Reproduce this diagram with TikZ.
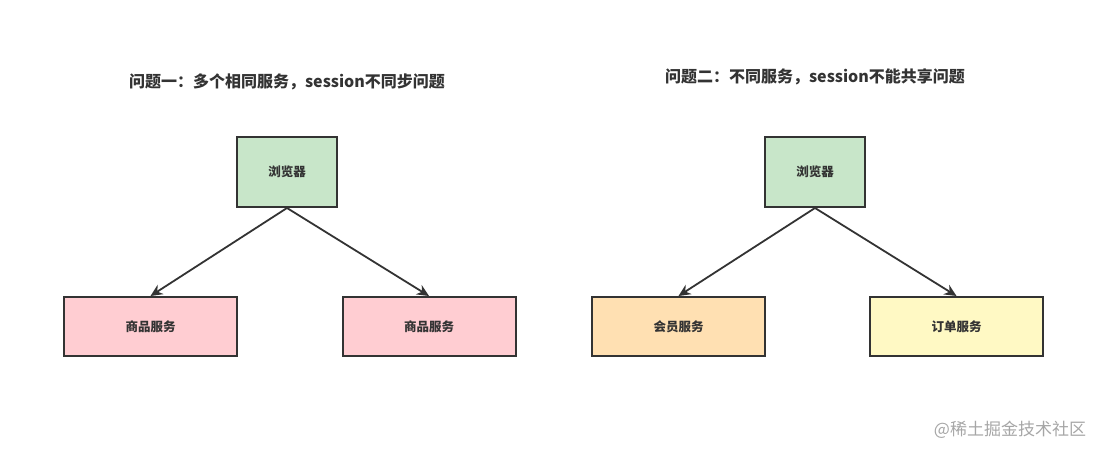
\documentclass[tikz,border=0pt]{standalone}
\usepackage{fontspec}
\setmainfont{Noto Sans CJK SC}
\usetikzlibrary{arrows.meta,positioning}
\definecolor{boxline}{HTML}{333333}
\definecolor{browsergreen}{HTML}{C8E6C9}
\definecolor{svcpink}{HTML}{FFCDD2}
\definecolor{svcorange}{HTML}{FFE0B2}
\definecolor{svcyellow}{HTML}{FFF9C4}
\tikzset{
  svcbox/.style={draw=boxline,line width=2pt,rectangle,minimum width=173pt,minimum height=59pt,align=center,text=boxline,font=\bfseries\fontsize{12.5}{14}\selectfont},
  browser/.style={svcbox,fill=browsergreen,minimum width=100pt,minimum height=70pt},
  caption/.style={font=\bfseries\fontsize{16}{19}\selectfont,text=boxline}
}
\begin{document}
\begin{tikzpicture}[x=1pt,y=-1pt,>={Stealth[length=12pt,width=11pt]},line width=1.8pt]
  \useasboundingbox (0,0) rectangle (1105,455);

  % problem one
  \node[caption] (t1) at (287,82) {问题一：多个相同服务，session不同步问题};
  \node[browser] (br1) at (287,172) {浏览器};
  \node[svcbox,fill=svcpink] (s1a) at (150.5,326.5) {商品服务};
  \node[svcbox,fill=svcpink] (s1b) at (429,326.5) {商品服务};
  \draw[->,boxline] (br1.south) -- (s1a.north);
  \draw[->,boxline] (br1.south) -- (s1b.north);

  % problem two
  \node[caption] (t2) at (815,77) {问题二：不同服务，session不能共享问题};
  \node[browser] (br2) at (815,172) {浏览器};
  \node[svcbox,fill=svcorange] (s2a) at (678.5,326.5) {会员服务};
  \node[svcbox,fill=svcyellow] (s2b) at (956.5,326.5) {订单服务};
  \draw[->,boxline] (br2.south) -- (s2a.north);
  \draw[->,boxline] (br2.south) -- (s2b.north);

  \node[text=black!35,font=\fontsize{17}{20}\selectfont] (wm) at (1010,430) {@稀土掘金技术社区};
\end{tikzpicture}
\end{document}
